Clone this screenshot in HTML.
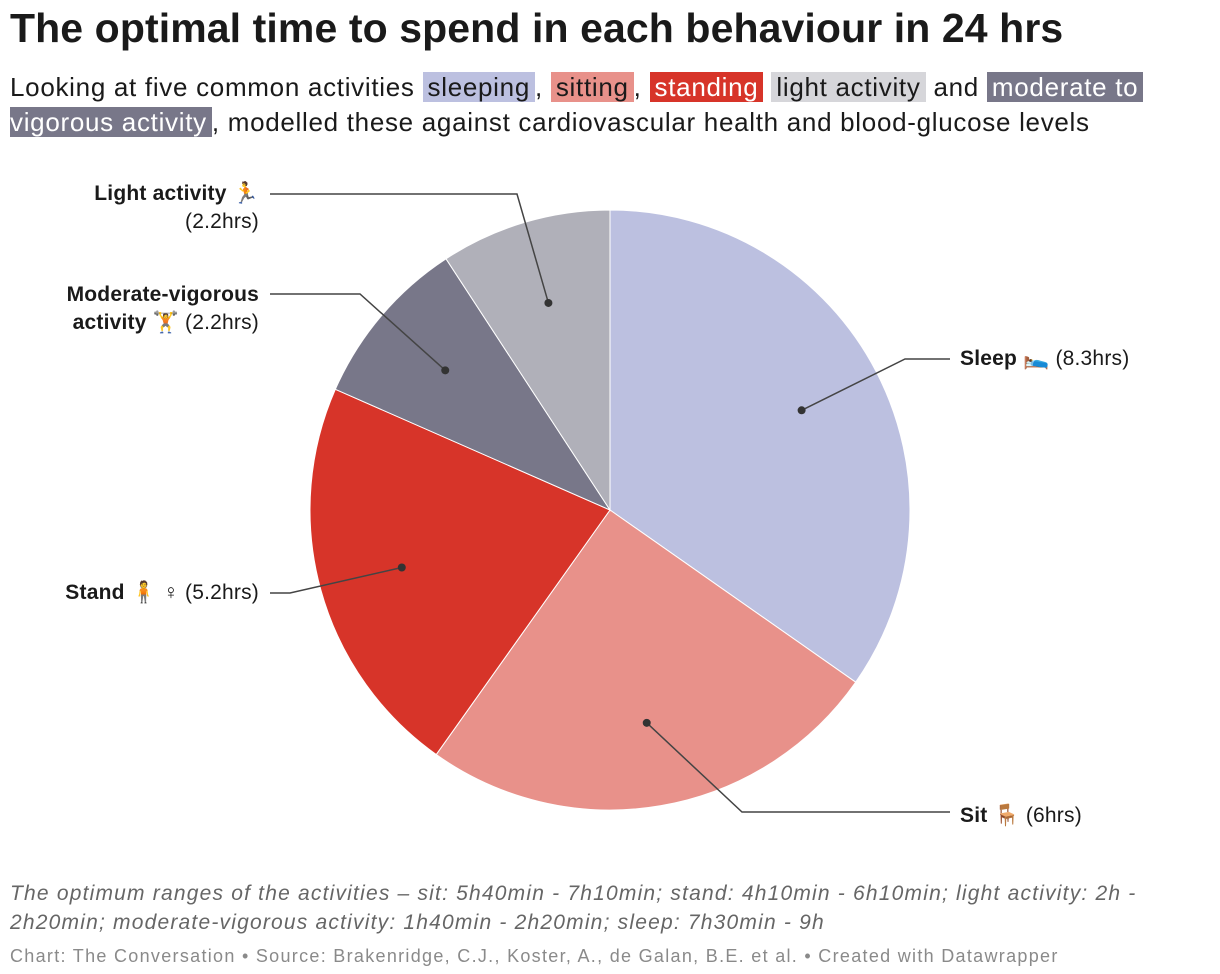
<!DOCTYPE html>
<html><head><meta charset="utf-8">
<style>
body{margin:0;width:1220px;height:974px;background:#fff;font-family:"Liberation Sans",sans-serif;color:#1a1a1a;position:relative;overflow:hidden}
h1{position:absolute;left:10px;top:5px;margin:0;font-size:41px;font-weight:bold;letter-spacing:0.1px;white-space:nowrap}
.sub{position:absolute;left:10px;top:70px;font-size:26px;line-height:35px;letter-spacing:0.7px;white-space:nowrap}
.hl{padding:0 5px}
.lbl{position:absolute;font-size:21px;line-height:28px;white-space:nowrap;letter-spacing:0.2px}
.note{position:absolute;left:10px;top:879px;font-size:21px;line-height:29px;font-style:italic;color:#666;letter-spacing:1.2px;white-space:nowrap}
.src{position:absolute;left:10px;top:946px;font-size:18px;color:#8a8a8a;white-space:nowrap;letter-spacing:1.3px}
</style></head><body>
<h1>The optimal time to spend in each behaviour in 24 hrs</h1>
<div class="sub">Looking at five common activities <span class="hl" style="background:#bcc0e0">sleeping</span>, <span class="hl" style="background:#e8918a">sitting</span>, <span class="hl" style="background:#d73429;color:#fff">standing</span> <span class="hl" style="background:#d6d6da">light activity</span> and <span class="hl" style="background:#787789;color:#fff">moderate to</span><br><span class="hl" style="background:#787789;color:#fff;padding-left:0">vigorous activity</span>, modelled these against cardiovascular health and blood-glucose levels</div>

<svg id="pie" width="1220" height="974" style="position:absolute;left:0;top:0"></svg>

<div class="lbl" style="right:961px;top:180px;text-align:right"><b>Light activity</b> 🏃<br>(2.2hrs)</div>
<div class="lbl" style="right:961px;top:281px;text-align:right"><b>Moderate-vigorous</b><br><b>activity</b> 🏋 (2.2hrs)</div>
<div class="lbl" style="right:961px;top:579px;text-align:right"><b>Stand</b> 🧍 ♀ (5.2hrs)</div>
<div class="lbl" style="left:960px;top:345px"><b>Sleep</b> 🛌 (8.3hrs)</div>
<div class="lbl" style="left:960px;top:802px"><b>Sit</b> 🪑 (6hrs)</div>

<div class="note">The optimum ranges of the activities – sit: 5h40min - 7h10min; stand: 4h10min - 6h10min; light activity: 2h -<br>2h20min; moderate-vigorous activity: 1h40min - 2h20min; sleep: 7h30min - 9h</div>
<div class="src">Chart: The Conversation • Source: Brakenridge, C.J., Koster, A., de Galan, B.E. et al. • Created with Datawrapper</div>

<script>
const categories=["Sleep","Sit","Stand","Moderate-vigorous","Light activity"];
const values=[8.3,6,5.2,2.2,2.2];
const colors=["#bcc0e0","#e8918a","#d73429","#787789","#b0b0b9"];
const anchors=[[[905,359],[950,359]],[[742,812],[950,812]],[[290,593],[270,593]],[[360,294],[270,294]],[[517,194],[270,194]]];
const cx=610,cy=510,R=300;
const svg=document.getElementById('pie');
const NS="http://www.w3.org/2000/svg";
const total=values.reduce((a,b)=>a+b,0);
function pt(angle,r){return [cx+r*Math.sin(angle),cy-r*Math.cos(angle)];}
let a0=0;
values.forEach((v,i)=>{
  const a1=a0+v/total*2*Math.PI;
  const p0=pt(a0,R),p1=pt(a1,R);
  const large=(a1-a0)>Math.PI?1:0;
  const path=document.createElementNS(NS,'path');
  path.setAttribute('d',`M${cx},${cy}L${p0[0]},${p0[1]}A${R},${R} 0 ${large} 1 ${p1[0]},${p1[1]}Z`);
  path.setAttribute('fill',colors[i]);
  path.setAttribute('stroke','#fff');
  path.setAttribute('stroke-width','1');
  
  
  svg.appendChild(path);
  a0=a1;
});
a0=0;
values.forEach((v,i)=>{
  const a1=a0+v/total*2*Math.PI;
  const d=pt((a0+a1)/2,R*0.72);
  const an=anchors[i];
  const line=document.createElementNS(NS,'polyline');
  line.setAttribute('points',`${d[0]},${d[1]} ${an[0][0]},${an[0][1]} ${an[1][0]},${an[1][1]}`);
  line.setAttribute('fill','none');line.setAttribute('stroke','#444');line.setAttribute('stroke-width','1.5');
  
  
  svg.appendChild(line);
  const c=document.createElementNS(NS,'circle');
  c.setAttribute('cx',d[0]);c.setAttribute('cy',d[1]);c.setAttribute('r',4);c.setAttribute('fill','#333');
  
  
  svg.appendChild(c);
  a0=a1;
});
</script>
</body></html>
